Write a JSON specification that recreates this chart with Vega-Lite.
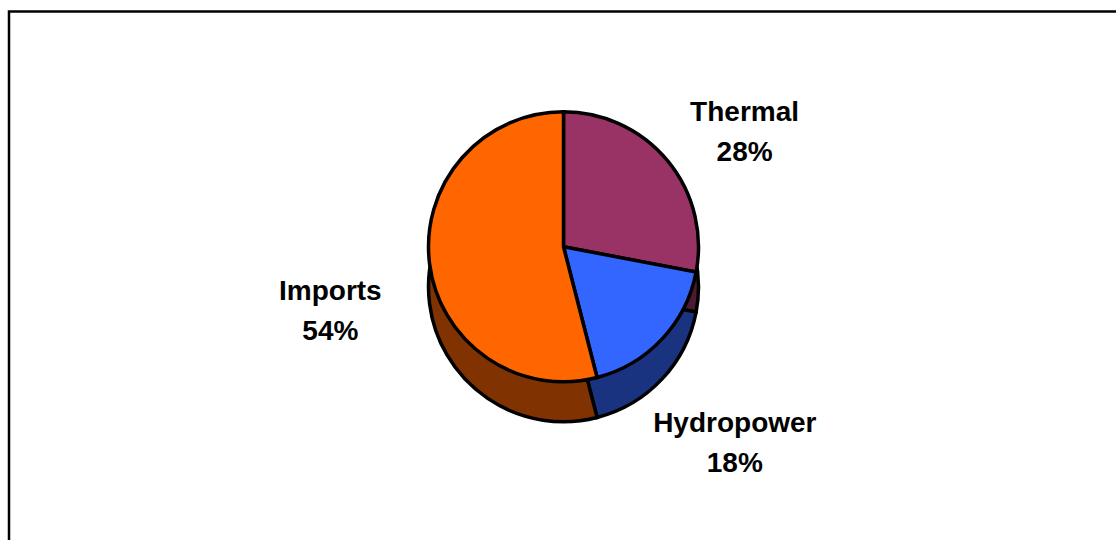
{
  "$schema": "https://vega.github.io/schema/vega-lite/v6.json",
  "width": 1116,
  "height": 540,
  "autosize": {"type": "fit", "contains": "padding"},
  "padding": {"left": 7, "top": 9.5, "right": -4, "bottom": -4},
  "background": "white",
  "data": {
    "values": [
      {"source": "Thermal", "share": 0.28},
      {"source": "Hydropower", "share": 0.18},
      {"source": "Imports", "share": 0.54}
    ]
  },
  "layer": [
    {
      "data": {"values": [{"frame": "border"}]},
      "mark": {"type": "rect", "fill": null, "stroke": "black", "strokeWidth": 2.5}
    },
    {
      "mark": {"type": "arc", "stroke": "black", "strokeWidth": 3.5, "outerRadius": 135, "yOffset": 10},
      "encoding": {
        "theta": {"field": "share", "type": "quantitative", "stack": true, "scale": {"range": [1.7593, 8.0425]}},
        "order": {"field": "source", "sort": "ascending"},
        "fill": {
          "field": "source",
          "type": "nominal",
          "legend": null,
          "scale": {"domain": ["Thermal", "Hydropower", "Imports"], "range": ["#4D1A33", "#1A3380", "#803300"]}
        }
      }
    },
    {
      "mark": {"type": "arc", "stroke": "black", "strokeWidth": 3.5, "outerRadius": 135, "yOffset": -30},
      "encoding": {
        "theta": {"field": "share", "type": "quantitative", "stack": true},
        "order": {"field": "source", "sort": "ascending"},
        "color": {
          "field": "source",
          "type": "nominal",
          "legend": null,
          "scale": {"domain": ["Thermal", "Hydropower", "Imports"], "range": ["#993366", "#3366FF", "#FF6600"]}
        }
      }
    },
    {
      "mark": {"type": "text", "radius": 235, "dy": -6, "font": "Liberation Sans", "fontWeight": "bold", "fontSize": 28, "baseline": "alphabetic", "align": "center", "color": "black"},
      "encoding": {
        "theta": {"field": "share", "type": "quantitative", "stack": true},
        "order": {"field": "source", "sort": "ascending"},
        "text": {"field": "source", "type": "nominal"}
      }
    },
    {
      "mark": {"type": "text", "radius": 235, "dy": 34, "font": "Liberation Sans", "fontWeight": "bold", "fontSize": 28, "baseline": "alphabetic", "align": "center", "color": "black"},
      "encoding": {
        "theta": {"field": "share", "type": "quantitative", "stack": true},
        "order": {"field": "source", "sort": "ascending"},
        "text": {"field": "share", "type": "quantitative", "format": ".0%"}
      }
    }
  ]
}
